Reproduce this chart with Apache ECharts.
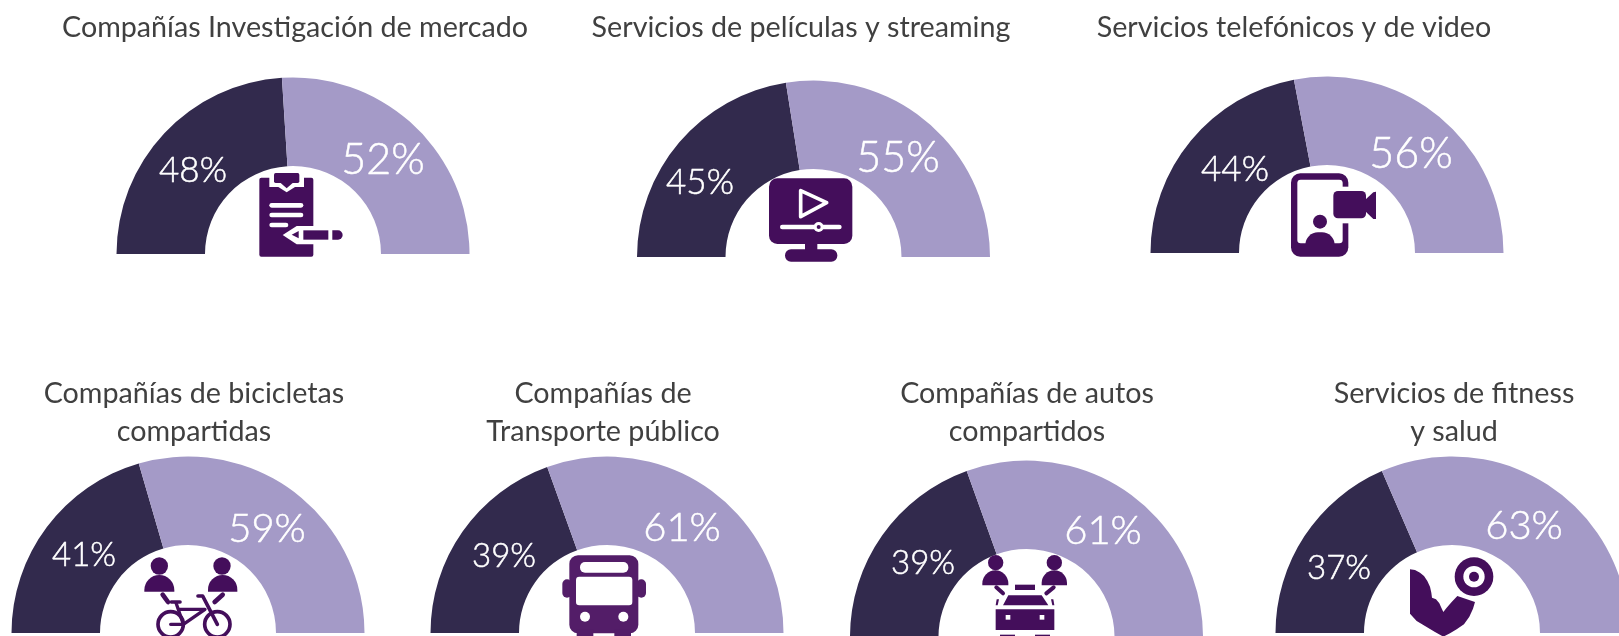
<!DOCTYPE html>
<html>
<head>
<meta charset="utf-8">
<style>html,body{margin:0;padding:0;background:#fff;overflow:hidden}#c{width:1619px;height:636px}</style>
<script src="https://cdn.jsdelivr.net/npm/echarts@6/dist/echarts.min.js"></script>
</head>
<body>
<div id="c"></div>
<script>
// ---- data ----
const categories = ['Compañías Investigación de mercado','Servicios de películas y streaming','Servicios telefónicos y de video','Compañías de bicicletas\ncompartidas','Compañías de\nTransporte público','Compañías de autos\ncompartidos','Servicios de fitness\ny salud'];
const darkValues  = [48,45,44,41,39,39,37];
const lightValues = [52,55,56,59,61,61,63];

// ---- layout ----
const centersX = [293,813.5,1327,188,607,1026.5,1452];
const centersY = [254,257,253,633,633,637,633];
const titleX = [295,801,1294,194,603,1027,1454];
const titleY = [26,26,26,392,392,392,392];
const darkLabelPos  = [[193,171],[700,183],[1235,170],[84,555],[504,556],[923,563],[1339,568]];
const lightLabelPos = [[383,160],[898,158],[1411,154],[267,529],[682,528],[1103,531],[1524,526]];
const darkLabelSize  = [35,35,35,33,33,33,33];
const lightLabelSize = [43,43,43,40,40,40,40];
const DARK='#322A4D', LIGHT='#A49AC7', ICON='#440E5B', BUS='#531D68', W='#ffffff';

const series = categories.map((name,i)=>({
  type:'pie', name, silent:true, animation:false,
  center:[centersX[i],centersY[i]], radius:[88,176.5],
  startAngle:180, endAngle:360, clockwise:true,
  avoidLabelOverlap:false, labelLine:{show:false},
  emphasis:{disabled:true},
  label:{show:true,position:'inside',color:W,fontFamily:'Lato',fontWeight:300,textBorderColor:W,textBorderWidth:0.5,formatter:p=>p.value+'%'},
  labelLayout:p=>{
    const pos=p.dataIndex===0?darkLabelPos[i]:lightLabelPos[i];
    return {x:pos[0],y:pos[1],align:'center',verticalAlign:'middle'};
  },
  data:[
    {value:darkValues[i],name:'a',itemStyle:{color:DARK},label:{fontSize:darkLabelSize[i]}},
    {value:lightValues[i],name:'b',itemStyle:{color:LIGHT},label:{fontSize:lightLabelSize[i]}}
  ]
}));

const titles = categories.map((text,i)=>({
  text, left:titleX[i], top:titleY[i]-18, padding:0, textAlign:'center',
  textStyle:{fontFamily:'Lato',fontWeight:400,fontSize:28.7,lineHeight:38.5,color:'#404040'}
}));

// icon primitives, coordinates in thirds of a pixel
const R=(x0,y0,x1,y1,f,r)=>({type:'rect',z:50,shape:{x:x0,y:y0,width:x1-x0,height:y1-y0,r:r||0},style:{fill:f}});
const C=(cx,cy,r,f)=>({type:'circle',z:50,shape:{cx,cy,r},style:{fill:f}});
const O=(cx,cy,r,f,w)=>({type:'circle',z:50,shape:{cx,cy,r},style:{fill:null,stroke:f,lineWidth:w}});
const P=(pts,f)=>({type:'polygon',z:50,shape:{points:pts},style:{fill:f}});
const L=(pts,f,w)=>({type:'polyline',z:50,shape:{points:pts},style:{fill:null,stroke:f,lineWidth:w,lineCap:'round',lineJoin:'round'}});
const G=(x,y,children)=>({type:'group',x,y,scaleX:1/3,scaleY:1/3,z:50,children});

const person=(cx,cy,r,bx0,bx1,by0,by1,arm,w)=>[
  C(cx,cy,r,ICON),
  R(bx0,by0,bx1,by1,ICON,[(bx1-bx0)/2,(bx1-bx0)/2,0,0]),
  L(arm,ICON,w)
];

const icons=[
  G(250,165,[
    R(28,38,190,275,ICON,6),
    R(58,20,162,66,W),P([[85,66],[135,66],[110,82]],W),
    R(72,24,148,54,ICON,5),P([[92,54],[128,54],[110,70]],ICON),
    R(58,114,160,128,W,7),R(58,143,160,157,W,7),R(58,173,115,187,W,7),
    P([[98,210],[140,183],[195,183],[195,238],[140,238]],W),
    P([[125,209],[146,198],[146,220]],ICON),
    R(160,196,235,224,ICON),R(247,196,278,224,ICON,[0,14,14,0])
  ]),
  G(760,170,[
    R(135,215,172,245,ICON),
    R(27,25,277,222,ICON,25),
    R(75,238,232,275,ICON,18),
    R(60,164,245,178,W,7),
    C(176,171,15,W),C(176,171,6,ICON),
    {type:'polygon',z:50,shape:{points:[[122,62],[122,140],[200,98]]},style:{fill:null,stroke:W,lineWidth:11,lineJoin:'round'}}
  ]),
  G(1280,165,[
    R(33,25,205,275,ICON,28),
    R(52,44,188,235,W,10),
    C(120,170,21,ICON),
    R(76,202,164,240,ICON,[40,40,0,0]),
    R(150,65,210,175,W),
    R(160,78,258,160,ICON,14),
    P([[255,105],[280,82],[288,80],[288,162],[280,162],[255,138]],ICON)
  ]),
  G(140,546,[
    ...person(58,60,26,13,103,87,137,[[68,146],[84,168]],14),
    ...person(246,60,26,204,292,87,137,[[248,146],[224,168]],14),
    O(92,235,38,ICON,11),O(232,235,38,ICON,11),
    L([[94,168],[120,168]],ICON,11),
    L([[108,170],[130,235],[92,235]],ICON,10),
    L([[118,190],[195,190],[130,235]],ICON,10),
    L([[174,150],[188,150],[232,235]],ICON,11)
  ]),
  G(555,546,[
    R(22,100,50,155,BUS,14),R(245,100,273,155,BUS,14),
    R(43,28,250,262,BUS,26),
    R(65,250,115,272,BUS),R(178,250,228,272,BUS),
    R(75,48,220,80,W,15),R(63,92,232,178,W,10),
    C(90,212,15,W),C(205,212,15,W)
  ]),
  G(975,546,[
    ...person(62,50,23,22,100,73,118,[[64,124],[84,142]],12),
    ...person(238,50,23,200,276,73,118,[[236,124],[214,142]],12),
    R(120,116,180,132,ICON),
    P([[100,148],[200,148],[220,178],[84,178]],ICON),
    P([[65,160],[72,160],[68,178],[62,178]],ICON),
    P([[228,160],[235,160],[238,178],[232,178]],ICON),
    R(62,190,238,252,ICON),
    R(92,207,106,221,W),R(194,207,208,221,W),
    R(75,266,120,272,ICON),R(180,266,225,272,ICON)
  ]),
  G(1400,546,[
    C(222,92,58,ICON),C(222,92,32,W),C(222,92,15,ICON),
    P([[30,70],[45,72],[60,80],[72,90],[82,105],[90,122],[94,140],[96,155],[108,160],[118,172],[124,185],[130,198],[140,185],[155,168],[172,150],[225,168],[219,188],[208,212],[192,235],[170,250],[150,262],[130,272],[105,258],[75,240],[50,225],[30,203]],ICON)
  ])
];

const chart=echarts.init(document.getElementById('c'),null,{renderer:'canvas'});
chart.setOption({backgroundColor:'#fff',animation:false,title:titles,series,graphic:{elements:icons}});
</script>
</body>
</html>
